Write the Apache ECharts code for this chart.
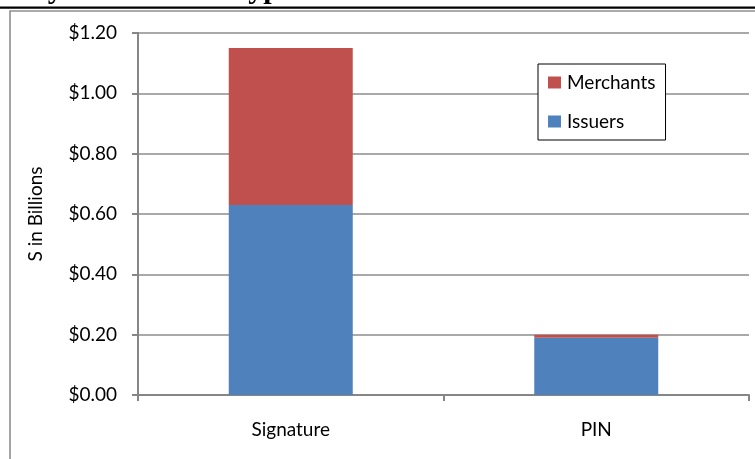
<!DOCTYPE html>
<html>
<head>
<meta charset="utf-8">
<script src="https://cdn.jsdelivr.net/npm/echarts@6/dist/echarts.min.js"></script>
<style>
  html, body { margin: 0; padding: 0; background: #fff; }
  #chart { width: 755px; height: 459px; }
</style>
</head>
<body>
<div id="chart"></div>
<script>
// Interchange fees by transaction type, in billions of dollars
const categories = ['Signature', 'PIN'];
const issuers = [0.63, 0.19];
const merchants = [0.52, 0.01];
const yTicks = [0, 0.2, 0.4, 0.6, 0.8, 1.0, 1.2];

const FONT = 'Lato';
const FONT_SIZE = 19;
const AXIS_GRAY = '#868686';

const chart = echarts.init(document.getElementById('chart'), null, { renderer: 'canvas' });

chart.setOption({
  animation: false,
  backgroundColor: '#ffffff',
  textStyle: { fontFamily: FONT },
  graphic: [
    {
      type: 'text', x: 31, y: -25, silent: true,
      style: { text: 'by Transaction Type', font: 'bold 30px "Liberation Serif"', fill: '#000' }
    },
    { type: 'rect', shape: { x: 0, y: 6.5, width: 755, height: 2.2 }, style: { fill: '#000' }, silent: true },
    {
      type: 'polyline', silent: true,
      shape: { points: [[10, 459], [10, 11], [755, 11]] },
      style: { stroke: '#8f8f8f', lineWidth: 1.6, fill: null }
    }
  ],
  legend: {
    data: ['Merchants', 'Issuers'],
    orient: 'vertical',
    left: 538,
    top: 64,
    padding: [9, 10, 9, 10],
    itemGap: 20,
    itemWidth: 13,
    itemHeight: 12,
    icon: 'rect',
    borderColor: '#000',
    borderWidth: 1,
    backgroundColor: '#fff',
    textStyle: { fontFamily: FONT, fontSize: FONT_SIZE, color: '#000', padding: [0, 0, 0, 1] }
  },
  grid: { left: 138, right: 6, top: 33, bottom: 64, containLabel: false },
  xAxis: {
    type: 'category',
    data: categories,
    boundaryGap: true,
    axisLine: { lineStyle: { color: AXIS_GRAY, width: 2 } },
    axisTick: { show: true, length: 6, lineStyle: { color: AXIS_GRAY, width: 2 } },
    axisLabel: { fontFamily: FONT, fontSize: FONT_SIZE, color: '#000', margin: 25 }
  },
  yAxis: {
    type: 'value',
    min: yTicks[0],
    max: yTicks[yTicks.length - 1],
    interval: yTicks[1] - yTicks[0],
    name: 'S in Billions',
    nameLocation: 'middle',
    nameGap: 93,
    nameTextStyle: { fontFamily: FONT, fontSize: FONT_SIZE, color: '#000' },
    axisLine: { show: true, lineStyle: { color: AXIS_GRAY, width: 2 } },
    axisTick: { show: true, length: 6, lineStyle: { color: AXIS_GRAY, width: 2 } },
    axisLabel: {
      fontFamily: FONT, fontSize: FONT_SIZE, color: '#000', margin: 21,
      formatter: v => '$' + v.toFixed(2)
    },
    splitLine: { lineStyle: { color: '#8c8c8c', width: 1.5 } }
  },
  series: [
    {
      name: 'Issuers', type: 'bar', stack: 'fees', data: issuers,
      barWidth: 124,
      itemStyle: { color: '#4F81BD' }
    },
    {
      name: 'Merchants', type: 'bar', stack: 'fees', data: merchants,
      barWidth: 124,
      itemStyle: { color: '#C0504D' }
    }
  ]
});
</script>
</body>
</html>
